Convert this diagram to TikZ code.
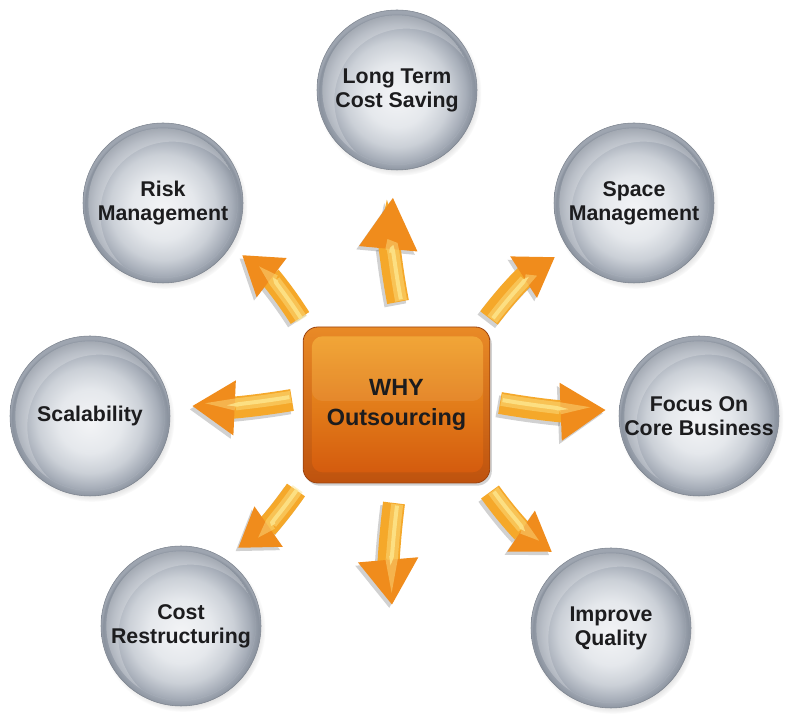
\documentclass[tikz,border=0pt]{standalone}
\usepackage{fontspec}
\setmainfont{Liberation Sans}
\usetikzlibrary{arrows.meta,shadows,fadings}

\definecolor{sphC}{HTML}{F3F4F6}
\definecolor{sphL}{HTML}{E5E8EC}
\definecolor{sphM}{HTML}{CBD0D7}
\definecolor{sphD}{HTML}{A6ADB8}
\definecolor{sphE}{HTML}{8A929E}
\definecolor{sphR}{HTML}{9EA5B0}
\definecolor{txt}{HTML}{1C1C1E}
\definecolor{frT}{HTML}{E98A26}
\definecolor{frB}{HTML}{BE520E}
\definecolor{frD}{HTML}{9C4410}
\definecolor{fcT}{HTML}{F2A328}
\definecolor{fcM}{HTML}{E5761A}
\definecolor{fcB}{HTML}{D2560C}
\definecolor{arshaft}{HTML}{F5A82A}
\definecolor{arhead}{HTML}{F08C1C}
\definecolor{arlight}{HTML}{FDE48A}

\pgfdeclareradialshading{spherebody}{\pgfpoint{0bp}{-2bp}}{%
  color(0bp)=(sphC); color(10bp)=(sphL); color(16.5bp)=(sphM);
  color(21.5bp)=(sphD); color(24.4bp)=(sphE); color(25bp)=(sphR); color(50bp)=(sphR)}

\tikzset{
  sphere/.style={circle, minimum size=120pt, inner sep=0pt, shade, shading=spherebody,
    draw=sphE!90!black, line width=0.4pt, align=center,
    font=\fontsize{16}{18}\selectfont\bfseries, text=txt,
    circular drop shadow={shadow xshift=1.5pt, shadow yshift=-2.5pt, shadow scale=1.03, opacity=0.4},
    path picture={
      \begin{scope}
        \clip (path picture bounding box.center) circle (56pt);
        \fill[white, opacity=0.22, even odd rule]
          (path picture bounding box.center) circle (56pt)
          ([shift={(7pt,-8pt)}]path picture bounding box.center) circle (54pt);
      \end{scope}}},
  whybox/.style={rectangle, rounded corners=11pt, minimum width=140pt, minimum height=117pt,
    shade, top color=frT, bottom color=frB, draw=frD, line width=0.6pt, align=center,
    font=\fontsize{17.6}{22.5}\selectfont\bfseries, text=txt,
    drop shadow={shadow xshift=1.5pt, shadow yshift=-2pt, opacity=0.35},
    path picture={
      \shade[top color=fcT, middle color=fcM, bottom color=fcB, rounded corners=8pt]
        ([shift={(6.5pt,8pt)}]path picture bounding box.south west) rectangle
        ([shift={(-5pt,-7pt)}]path picture bounding box.north east);
      \fill[white,opacity=0.08, rounded corners=8pt]
        ([shift={(6.5pt,3pt)}]path picture bounding box.west) rectangle
        ([shift={(-5pt,-7pt)}]path picture bounding box.north east);}},
  arrowshadow/.style 2 args={line width=16.5pt, draw=black, opacity=0.18,
    -{Triangle[length=#1 0 0, width=#2 0 0]}, transform canvas={shift={(-2pt,-2.5pt)}}},
  arrowbody/.style 2 args={line width=16.5pt, draw=arshaft,
    -{Triangle[length=#1 0 0, width=#2 0 0, color=arhead]}},
  arrowglow/.style 2 args={line width=9pt, draw=arlight, opacity=0.45, shorten >=#1+1pt, shorten <=1pt,
    transform canvas={shift={#2}}},
  arrowshine/.style 2 args={line width=3pt, draw=arlight, opacity=0.85, shorten >=#1+3pt, shorten <=2pt,
    transform canvas={shift={#2}}}
}

\newcommand\fancyarr[6]{%
  \draw[arrowshadow={#5}{#6}] (#1) to[#3] (#2);
  \draw[arrowbody={#5}{#6}] (#1) to[#3] (#2);
  \draw[arrowglow={#5}{#4}] (#1) to[#3] (#2);
  \draw[arrowshine={#5}{#4}] (#1) to[#3] (#2);
}

\begin{document}
\begin{tikzpicture}[x=0.75pt,y=0.75pt]
\useasboundingbox (0,0) rectangle (800,717);
\fill[white] (0,0) rectangle (800,717);

% spheres
\node[sphere] (s1) at (397,627) {Long Term\\Cost Saving};
\node[sphere] (s2) at (634,514) {Space\\Management};
\node[sphere] (s3) at (699,301) {Focus On\\Core Business};
\node[sphere] (s4) at (611,89) {Improve\\Quality};
\node[sphere] (s5) at (181,91) {Cost\\Restructuring};
\node[sphere] (s6) at (90,301) {Scalability};
\node[sphere] (s7) at (163,514) {Risk\\Management};

% centre box
\node[whybox] (why) at (396.5,312) {WHY\\Outsourcing};

% arrow end points
\coordinate (a1) at (398,415); \coordinate (b1) at (393,520);
\coordinate (a2) at (394,214); \coordinate (b2) at (392,112);
\coordinate (a3) at (300,399); \coordinate (b3) at (242,462);
\coordinate (a4) at (489,399); \coordinate (b4) at (555,460);
\coordinate (a5) at (292,317); \coordinate (b5) at (192,311);
\coordinate (a6) at (500,314); \coordinate (b6) at (606,307);
\coordinate (a7) at (296,227); \coordinate (b7) at (238,169);
\coordinate (a8) at (490,225); \coordinate (b8) at (552,165);

\fancyarr{a1}{b1}{bend left=8}{(2.5pt,0pt)}{39pt}{41pt}
\fancyarr{a2}{b2}{bend right=6}{(2.5pt,0pt)}{34pt}{43pt}
\fancyarr{a3}{b3}{bend right=10}{(1.8pt,-1.8pt)}{28pt}{35pt}
\fancyarr{a4}{b4}{bend left=10}{(1.8pt,-1.8pt)}{28pt}{35pt}
\fancyarr{a5}{b5}{bend left=6}{(0pt,2.5pt)}{32pt}{39pt}
\fancyarr{a6}{b6}{bend right=6}{(0pt,2.5pt)}{34pt}{41pt}
\fancyarr{a7}{b7}{bend left=10}{(1.8pt,1.8pt)}{28pt}{35pt}
\fancyarr{a8}{b8}{bend right=10}{(1.8pt,1.8pt)}{28pt}{35pt}
\end{tikzpicture}
\end{document}
